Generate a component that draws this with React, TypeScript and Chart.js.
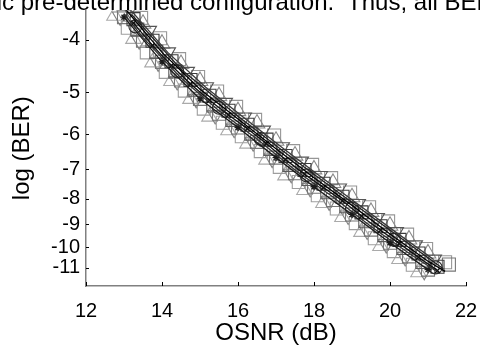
import React, { useEffect, useRef } from "react";
import { Chart, registerables } from "chart.js";

Chart.register(...registerables);

// ---- text ----
const headerText = "specific pre-determined configuration.  Thus, all BER";
const xTitle = "OSNR (dB)";
const yTitle = "log (BER)";

// ---- axes ----
const xTicks = [12, 14, 16, 18, 20, 22];
const yTicks = [-4, -5, -6, -7, -8, -9, -10, -11];
const xMin = 12;
const xMax = 22;
const yTopLog = -3.55;
const yBottomLog = -12;

// ---- series (OSNR in dB, log10 BER) ----
const triUpX = [12.75, 13.25, 13.75, 14.25, 14.75, 15.25, 15.75, 16.25, 16.75, 17.25, 17.75, 18.25, 18.75, 19.25, 19.75, 20.25, 20.75];
const triUpY = [-3.63, -3.99, -4.4, -4.76, -5.14, -5.55, -5.89, -6.25, -6.71, -7.2, -7.69, -8.16, -8.7, -9.32, -9.95, -10.57, -11.25];

const triDownX = [12.9, 13.4, 13.9, 14.4, 14.9, 15.4, 15.9, 16.4, 16.9, 17.4, 17.9, 18.4, 18.9, 19.4, 19.9, 20.4, 20.9];
const triDownY = [-3.64, -4.01, -4.4, -4.76, -5.14, -5.51, -5.85, -6.21, -6.68, -7.15, -7.62, -8.1, -8.64, -9.26, -9.86, -10.47, -11.17];

const triDarkX = [13.15, 13.65, 14.15, 14.65, 15.15, 15.65, 16.15, 16.65, 17.15, 17.65, 18.15, 18.65, 19.15, 19.65, 20.15, 20.65, 21.15];
const triDarkY = [-3.53, -3.86, -4.22, -4.58, -4.89, -5.23, -5.57, -5.9, -6.35, -6.77, -7.22, -7.64, -8.2, -8.74, -9.33, -9.92, -10.6];

const triUp2X = [13.5, 14.0, 14.5, 15.0, 15.5, 16.0, 16.5, 17.0, 17.5, 18.0, 18.5, 19.0, 19.5, 20.0, 20.5, 21.0];
const triUp2Y = [-3.75, -4.07, -4.43, -4.76, -5.08, -5.42, -5.72, -6.17, -6.59, -7.01, -7.45, -7.95, -8.5, -9.06, -9.65, -10.3];

const sqGrayX = [13.0, 13.5, 14.0, 14.5, 15.0, 15.5, 16.0, 16.5, 17.0, 17.5, 18.0, 18.5, 19.0, 19.5, 20.0, 20.5, 21.0, 21.55];
const sqGrayY = [-3.65, -4.02, -4.39, -4.75, -5.14, -5.48, -5.82, -6.2, -6.65, -7.13, -7.58, -8.05, -8.6, -9.22, -9.8, -10.44, -11.11, -10.85];

const sqPaleX = [13.1, 13.6, 14.1, 14.6, 15.1, 15.6, 16.1, 16.6, 17.1, 17.6, 18.1, 18.6, 19.1, 19.6, 20.1, 20.6];
const sqPaleY = [-3.81, -4.22, -4.58, -4.96, -5.36, -5.7, -6.05, -6.46, -6.93, -7.42, -7.88, -8.37, -8.95, -9.6, -10.19, -10.86];

const sqMidX = [13.35, 13.85, 14.35, 14.85, 15.35, 15.85, 16.35, 16.85, 17.35, 17.85, 18.35, 18.85, 19.35, 19.85, 20.35, 20.85];
const sqMidY = [-3.84, -4.21, -4.57, -4.94, -5.29, -5.63, -5.98, -6.4, -6.87, -7.32, -7.77, -8.28, -8.87, -9.46, -10.04, -10.72];

const sqDarkX = [13.25, 13.75, 14.25, 14.75, 15.25, 15.75, 16.25, 16.75, 17.25, 17.75, 18.25, 18.75, 19.25, 19.75, 20.25, 20.75, 21.25];
const sqDarkY = [-3.68, -4.02, -4.38, -4.74, -5.07, -5.41, -5.75, -6.14, -6.6, -7.03, -7.48, -7.93, -8.52, -9.08, -9.67, -10.3, -10.96];

const sqLightX = [13.45, 13.95, 14.45, 14.95, 15.45, 15.95, 16.45, 16.95, 17.45, 17.95, 18.45, 18.95, 19.45, 19.95, 20.45, 20.95, 21.45];
const sqLightY = [-3.66, -3.98, -4.34, -4.68, -4.98, -5.32, -5.63, -6.03, -6.46, -6.87, -7.29, -7.78, -8.32, -8.88, -9.44, -10.09, -10.73];

const circX = [13.3, 14.4, 15.5, 16.6, 17.8, 19.0, 20.1, 21.2];
const circY = [-3.79, -4.57, -5.34, -6.12, -7.2, -8.37, -9.66, -11.0];

const lineAX = [13.0, 14.0, 15.0, 16.0, 17.0, 18.0, 19.0, 20.0, 21.0, 21.45];
const lineAY = [-3.51, -4.22, -4.93, -5.61, -6.39, -7.28, -8.25, -9.41, -10.68, -11.2];

const lineBX = [13.25, 13.75, 14.25, 14.75, 15.25, 15.75, 16.25, 16.75, 17.25, 17.75, 18.25, 18.75, 19.25, 19.75, 20.25, 20.75, 21.25];
const lineBY = [-3.74, -4.1, -4.46, -4.82, -5.17, -5.51, -5.85, -6.25, -6.71, -7.16, -7.61, -8.08, -8.67, -9.25, -9.84, -10.49, -11.16];

const lineCX = [13.0, 13.5, 14.5, 15.5, 16.5, 17.5, 18.5, 19.5, 20.5, 21.3];
const lineCY = [-3.6, -3.97, -4.7, -5.41, -6.12, -7.03, -7.94, -9.09, -10.29, -11.3];

const lineDX = [13.2, 14.5, 16.0, 17.5, 19.0, 20.5, 21.4];
const lineDY = [-3.61, -4.53, -5.54, -6.73, -8.14, -9.86, -11.06];

const lineEX = [13.0, 14.0, 15.0, 16.0, 17.0, 18.0, 19.0, 20.0, 21.0];
const lineEY = [-3.65, -4.39, -5.14, -5.82, -6.65, -7.58, -8.6, -9.8, -11.11];

const lineFX = [13.15, 14.15, 15.15, 16.15, 17.15, 18.15, 19.15, 20.15, 21.15];
const lineFY = [-3.53, -4.22, -4.89, -5.57, -6.35, -7.22, -8.2, -9.33, -10.6];

// ---- BER -> Q(dB) transform used by the y scale ----
function erfc(x: number): number {
  const z = Math.abs(x);
  const t = 1 / (1 + 0.5 * z);
  const r =
    t *
    Math.exp(
      -z * z - 1.26551223 +
        t * (1.00002368 + t * (0.37409196 + t * (0.09678418 + t * (-0.18628806 +
        t * (0.27886807 + t * (-1.13520398 + t * (1.48851587 + t * (-0.82215223 + t * 0.17087277))))))))
    );
  return x >= 0 ? r : 2 - r;
}
function toQdb(logBer: number): number {
  let lo = 0.01;
  let hi = 12;
  for (let i = 0; i < 80; i++) {
    const mid = (lo + hi) / 2;
    const lb = Math.log10(0.5 * erfc(mid / Math.SQRT2));
    if (lb > logBer) lo = mid;
    else hi = mid;
  }
  return 20 * Math.log10((lo + hi) / 2);
}

function pts(xs: number[], ys: number[]) {
  return xs.map((x, i) => ({ x, y: toQdb(ys[i]) }));
}

const FONT = "'Liberation Sans', Arial, Helvetica, sans-serif";
const CLEAR = "rgba(0,0,0,0)";

const inwardTicks = {
  id: "inwardTicks",
  afterDraw(chart: any) {
    const { ctx, chartArea, scales } = chart;
    const xs = scales.x;
    const ys = scales.y;
    ctx.save();
    ctx.strokeStyle = "#000";
    ctx.lineWidth = 1;
    ctx.beginPath();
    xTicks.forEach((v) => {
      const px = Math.round(xs.getPixelForValue(v)) + 0.5;
      ctx.moveTo(px, chartArea.bottom);
      ctx.lineTo(px, chartArea.bottom - 4);
    });
    yTicks.forEach((v) => {
      const py = Math.round(ys.getPixelForValue(toQdb(v))) + 0.5;
      ctx.moveTo(chartArea.left, py);
      ctx.lineTo(chartArea.left + 3, py);
    });
    ctx.stroke();
    ctx.restore();
  },
};

function markerSet(label: string, xs: number[], ys: number[], style: string, radius: number, color: string, order: number, rotation = 0) {
  return {
    label,
    data: pts(xs, ys),
    pointStyle: style,
    rotation,
    pointRadius: radius,
    pointBorderColor: color,
    pointBackgroundColor: CLEAR,
    pointBorderWidth: 1.1,
    order,
  };
}

function lineSet(label: string, xs: number[], ys: number[], color: string, order: number, marker: string | false = false) {
  return {
    label,
    data: pts(xs, ys),
    showLine: true,
    borderColor: color,
    borderWidth: 1.3,
    pointRadius: marker ? 3.5 : 0,
    pointStyle: marker || "circle",
    pointBorderColor: color,
    pointBackgroundColor: CLEAR,
    order,
  };
}

export default function App() {
  const ref = useRef<HTMLCanvasElement | null>(null);

  useEffect(() => {
    if (!ref.current) return;
    const yTickQ = yTicks.map((v) => toQdb(v));
    const chart = new Chart(ref.current, {
      type: "scatter",
      data: {
        datasets: [
          lineSet("line A", lineAX, lineAY, "#000", 0),
          lineSet("line B", lineBX, lineBY, "#111", 1, "crossRot"),
          lineSet("line C", lineCX, lineCY, "#333", 2),
          lineSet("line D", lineDX, lineDY, "#222", 3),
          lineSet("line E", lineEX, lineEY, "#1a1a1a", 4, "star"),
          lineSet("line F", lineFX, lineFY, "#3a3a3a", 5),
          markerSet("circles", circX, circY, "circle", 6.5, "#2a2a2a", 6),
          markerSet("squares dark", sqDarkX, sqDarkY, "rect", 9.2, "#3c3c3c", 7),
          markerSet("triangles dark", triDarkX, triDarkY, "triangle", 9, "#555", 8, 180),
          markerSet("squares mid", sqMidX, sqMidY, "rect", 9.2, "#5c5c5c", 9),
          markerSet("squares gray", sqGrayX, sqGrayY, "rect", 9.2, "#777", 10),
          markerSet("triangles up 2", triUp2X, triUp2Y, "triangle", 9, "#8a8a8a", 11),
          markerSet("squares light", sqLightX, sqLightY, "rect", 9.2, "#969696", 12),
          markerSet("squares pale", sqPaleX, sqPaleY, "rect", 9.2, "#9e9e9e", 13),
          markerSet("triangles down", triDownX, triDownY, "triangle", 9, "#7e7e7e", 14, 180),
          markerSet("triangles up", triUpX, triUpY, "triangle", 9, "#aaaaaa", 15),
        ],
      },
      options: {
        animation: false,
        responsive: false,
        maintainAspectRatio: false,
        layout: { padding: { left: 0, top: 10, right: 14, bottom: 0 } },
        plugins: {
          legend: { display: false },
          tooltip: { enabled: false },
        },
        scales: {
          x: {
            type: "linear",
            min: xMin,
            max: xMax,
            afterBuildTicks: (s: any) => {
              s.ticks = xTicks.map((v) => ({ value: v }));
            },
            afterFit: (s: any) => {
              s.height = 61;
              s.paddingLeft = 0;
              s.paddingRight = 0;
            },
            grid: { display: false, drawTicks: false },
            border: { display: true, color: "#808080", width: 1.5 },
            ticks: {
              padding: 13,
              color: "#000",
              font: { family: FONT, size: 20 },
              maxRotation: 0,
              autoSkip: false,
              callback: (v: any) => String(v),
            },
            title: {
              display: true,
              text: xTitle,
              color: "#000",
              font: { family: FONT, size: 24, lineHeight: 1.1 },
              padding: { top: 0, bottom: 0 },
            },
          },
          y: {
            type: "linear",
            reverse: true,
            min: toQdb(yTopLog),
            max: toQdb(yBottomLog),
            afterBuildTicks: (s: any) => {
              s.ticks = yTickQ.map((v) => ({ value: v }));
            },
            afterFit: (s: any) => {
              s.width = 86;
              s.paddingTop = 0;
              s.paddingBottom = 0;
            },
            grid: { display: false, drawTicks: false },
            border: { display: true, color: "#808080", width: 1.5 },
            ticks: {
              padding: 6,
              color: "#000",
              font: { family: FONT, size: 20 },
              autoSkip: false,
              callback: (v: any) => {
                const i = yTickQ.findIndex((q) => Math.abs(q - v) < 1e-6);
                return i >= 0 ? String(yTicks[i]) : "";
              },
            },
            title: {
              display: true,
              text: yTitle,
              color: "#000",
              font: { family: FONT, size: 24 },
              padding: { top: 8, bottom: 0 },
            },
          },
        },
      },
      plugins: [inwardTicks],
    });
    return () => chart.destroy();
  }, []);

  return (
    <div style={{ position: "absolute", left: 0, top: 0, width: 480, height: 347, background: "#fff", overflow: "hidden" }}>
      <canvas ref={ref} width={480} height={347} style={{ position: "absolute", left: 0, top: 0, width: 480, height: 347 }} />
      <div
        style={{
          position: "absolute",
          left: -66,
          top: -10,
          fontFamily: FONT,
          fontSize: 24,
          lineHeight: "24px",
          whiteSpace: "pre",
          color: "#000",
        }}
      >
        {headerText}
      </div>
    </div>
  );
}
